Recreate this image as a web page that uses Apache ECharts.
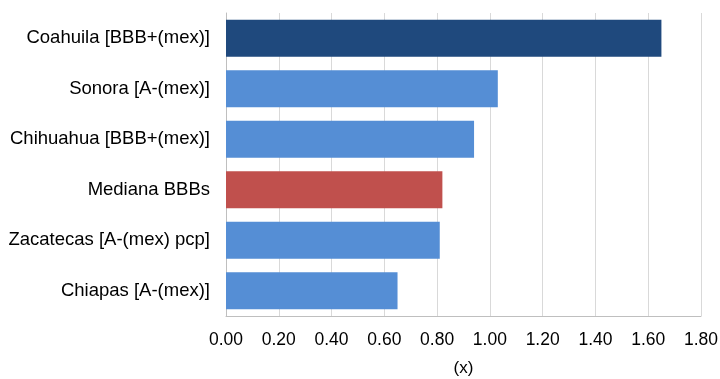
<!DOCTYPE html>
<html>
<head>
<meta charset="utf-8">
<script src="https://cdn.jsdelivr.net/npm/echarts@6/dist/echarts.min.js"></script>
<style>
  html, body { margin: 0; padding: 0; background: #fff; }
  #chart { width: 720px; height: 379px; }
</style>
</head>
<body>
<div id="chart"></div>
<script>
// categories top to bottom
const categories = [
  'Coahuila [BBB+(mex)]',
  'Sonora [A-(mex)]',
  'Chihuahua [BBB+(mex)]',
  'Mediana BBBs',
  'Zacatecas [A-(mex) pcp]',
  'Chiapas [A-(mex)]',
];
const values = [1.65, 1.03, 0.94, 0.82, 0.81, 0.65];
const barColors = ['#1f497d', '#558ed5', '#558ed5', '#c0504d', '#558ed5', '#558ed5'];

const chart = echarts.init(document.getElementById('chart'), null, { renderer: 'canvas' });

const font = 'Liberation Sans, Arial, sans-serif';

chart.setOption({
  animation: false,
  backgroundColor: '#fff',
  grid: { left: 226, right: 19, top: 13, bottom: 63, containLabel: false, outerBoundsMode: 'none' },
  xAxis: {
    type: 'value',
    min: 0,
    max: 1.8,
    interval: 0.2,
    name: '(x)',
    nameLocation: 'middle',
    nameGap: 44,
    nameTextStyle: { color: '#000', fontSize: 17, fontFamily: font },
    axisLine: { show: true, lineStyle: { color: '#bfbfbf' } },
    axisTick: { show: false },
    splitLine: { lineStyle: { color: '#d9d9d9' } },
    axisLabel: {
      color: '#000', fontSize: 17.5, fontFamily: font, margin: 15,
      formatter: v => v.toFixed(2),
    },
  },
  yAxis: {
    type: 'category',
    inverse: true,
    data: categories,
    axisLine: { show: true, lineStyle: { color: '#bfbfbf' } },
    axisTick: { show: false },
    axisLabel: { color: '#000', fontSize: 18.5, fontFamily: font, margin: 16 },
  },
  series: [{
    type: 'bar',
    data: values.map((v, i) => ({ value: v, itemStyle: { color: barColors[i] } })),
    barWidth: '73%',
  }],
});
</script>
</body>
</html>
